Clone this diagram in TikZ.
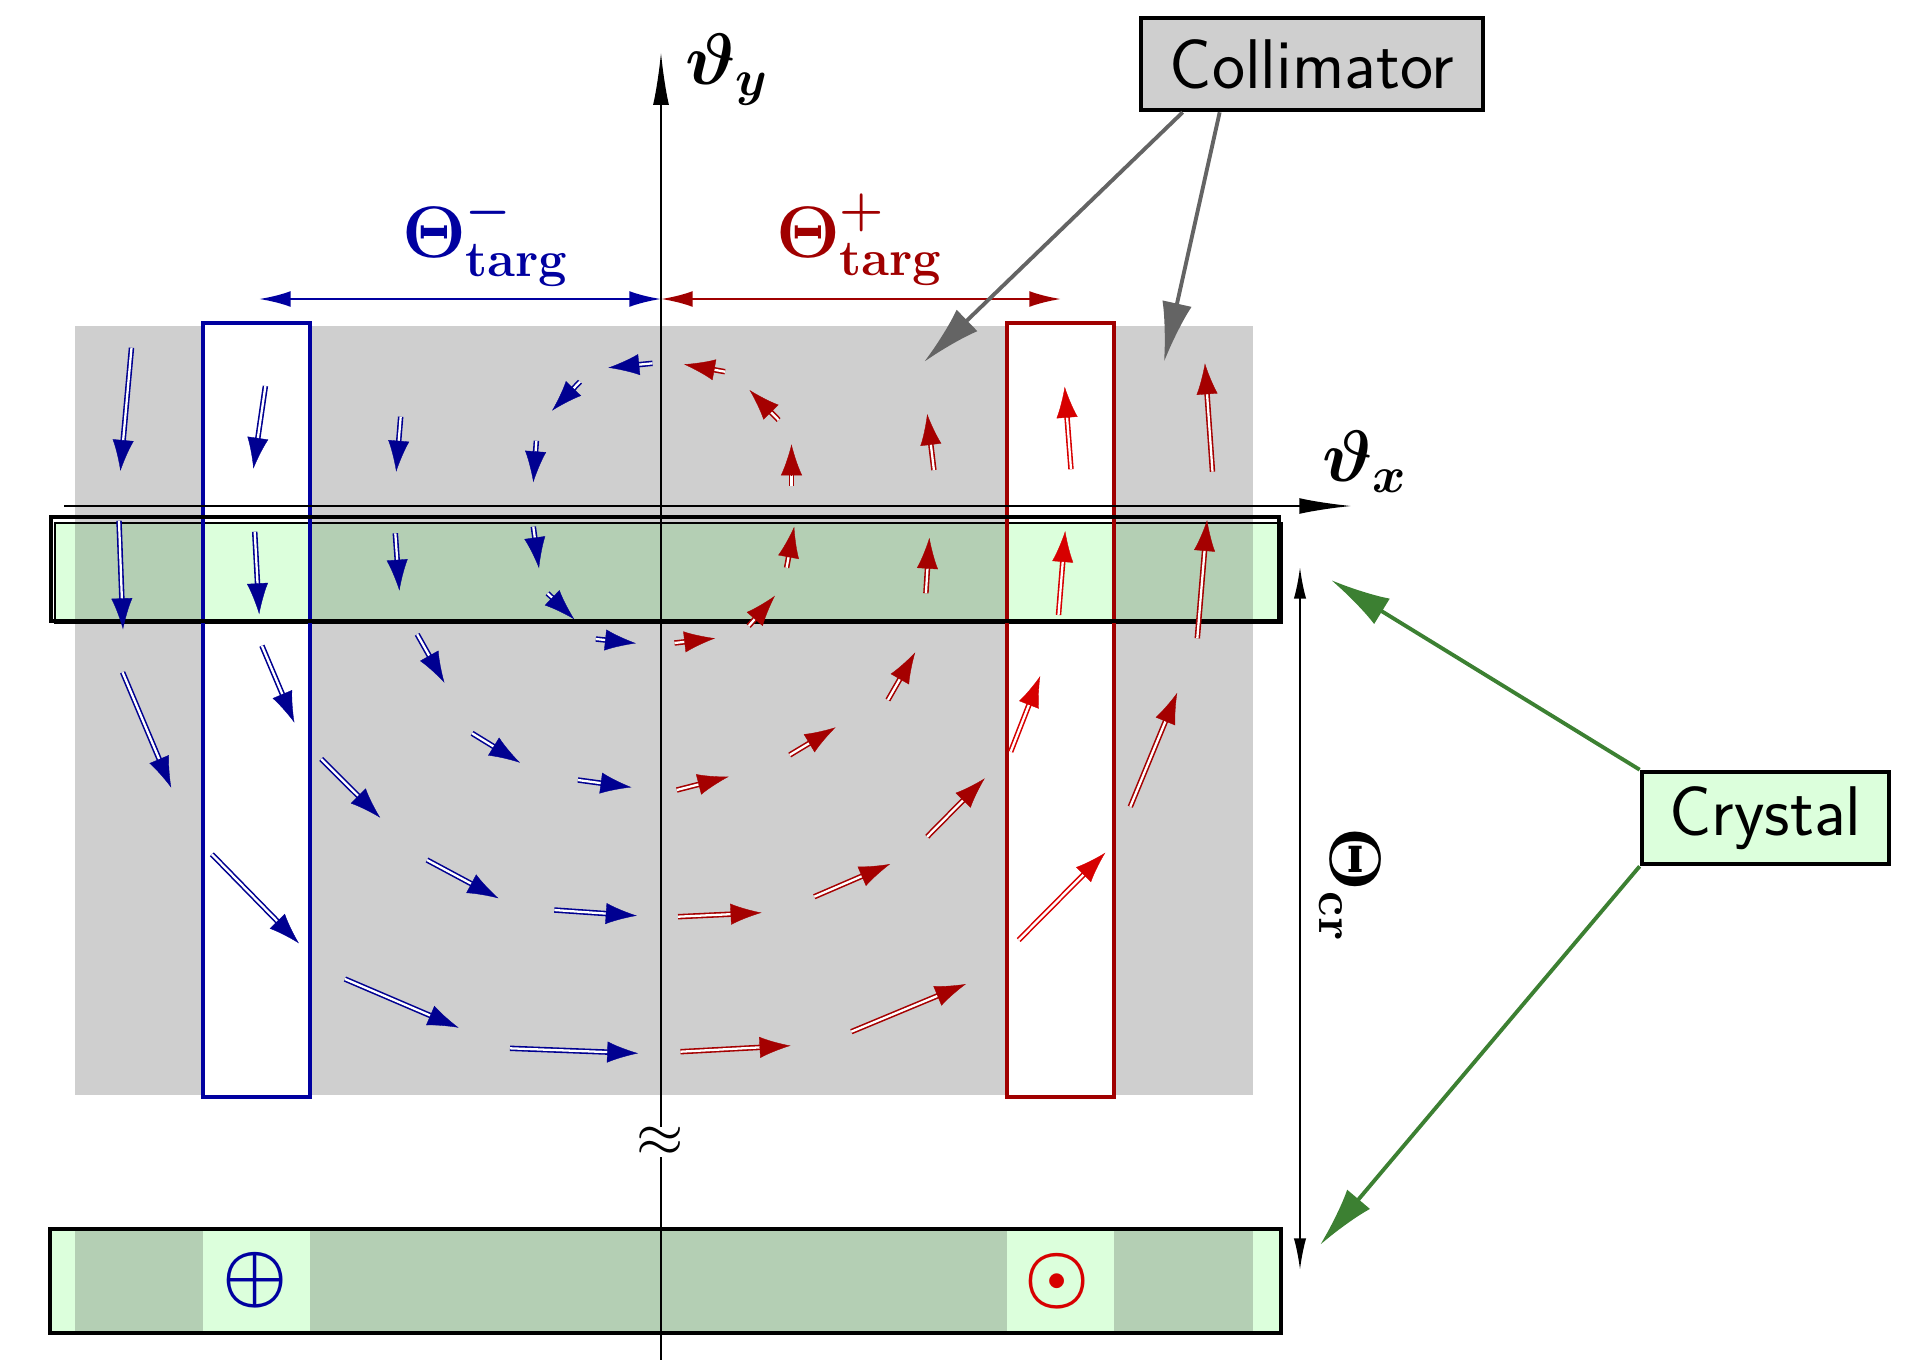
\documentclass[tikz,border=0pt]{standalone}
\usepackage{amsmath,bm}
\usetikzlibrary{arrows.meta,calc}
\definecolor{vblue}{RGB}{0,0,145}
\definecolor{vred}{RGB}{165,0,0}
\definecolor{vredb}{RGB}{215,0,0}
\definecolor{boxblue}{RGB}{0,0,160}
\definecolor{boxred}{RGB}{160,0,0}
\definecolor{colgray}{RGB}{207,207,207}
\definecolor{lgreen}{RGB}{220,255,220}
\definecolor{dgreen}{RGB}{180,207,180}
\definecolor{pgreen}{RGB}{60,128,50}
\definecolor{agray}{RGB}{100,100,100}
\newcommand\vfa[3]{%
  \draw[#1, line width=0.45pt, double=white, double distance=0.65pt, shorten >=7.5pt] (#2) -- (#3);
  \draw[#1, line width=0.1pt, -{Latex[length=8.8pt,width=6pt]}] ($(#3)!8.8pt!(#2)$) -- (#3);
}
\tikzset{
  lab/.style={font=\fontsize{20}{24}\selectfont, inner sep=0pt},
  tagbox/.style={draw, line width=1.3pt, font=\sffamily\fontsize{20}{24}\selectfont, minimum height=0.92cm, inner sep=0pt},
  axis/.style={line width=0.7pt, -{Latex[length=15pt,width=4.5pt]}},
  dimarr/.style={line width=0.75pt, {Latex[length=9pt,width=4.5pt]}-{Latex[length=9pt,width=4.5pt]}},
  callout/.style={line width=1.1pt, -{Latex[length=17pt,width=8.5pt]}},
  slot/.style={line width=1.3pt},
  band/.style={line width=1.3pt}
}
\begin{document}
\begin{tikzpicture}[x=0.01cm,y=-0.01cm]
\useasboundingbox (0,0) rectangle (1917,1360);
% collimator region
\fill[colgray] (75,326) rectangle (1253,1095);
\fill[white] (203,323) rectangle (310,1097);
\fill[white] (1007,323) rectangle (1114,1097);
% upper crystal band
\fill[lgreen] (55,523) rectangle (1281,621);
\fill[dgreen] (75,523) rectangle (203,621);
\fill[dgreen] (310,523) rectangle (1007,621);
\fill[dgreen] (1114,523) rectangle (1253,621);
\draw[line width=0.4pt] (55,523) rectangle (1282,623);
% lower crystal band
\fill[lgreen] (52,1231) rectangle (1279,1331);
\fill[dgreen] (75,1231) rectangle (203,1331);
\fill[dgreen] (310,1231) rectangle (1007,1331);
\fill[dgreen] (1114,1231) rectangle (1253,1331);
% slots
\draw[slot, boxblue] (203,323) rectangle (310,1097);
\draw[slot, boxred] (1007,323) rectangle (1114,1097);
% band borders
\draw[band] (51,517) rectangle (1279,621);
\draw[band] (50,1229) rectangle (1281,1333);
% symbols in lower band
\node[text=boxblue, inner sep=0pt, font=\fontsize{21}{24}\selectfont] (plus) at (255,1280) {$\bm{\oplus}$};
\node[text=vredb, inner sep=0pt, font=\fontsize{21}{24}\selectfont] (dot) at (1057,1281) {$\bm{\odot}$};
% axes
\draw[axis] (64,506) -- (1352,506);
\draw[axis] (661,1360) -- (661,52);
\node[fill=white, inner sep=0pt, font=\fontsize{18}{20}\selectfont] (brk) at (660.5,1142) {$\approx$};
\node[lab] (ty) at (727,70) {$\bm{\vartheta_y}$};
\node[lab] (tx) at (1365,462) {$\bm{\vartheta_x}$};
% target angle arrows
\draw[dimarr, boxblue] (259,299) -- (661,299);
\draw[dimarr, boxred] (661,299) -- (1061,299);
\node[lab, text=boxblue] (tm) at (486,240) {$\bm{\Theta}^{\bm{-}}_{\mathbf{targ}}$};
\node[lab, text=boxred] (tp) at (860,240) {$\bm{\Theta}^{\bm{+}}_{\mathbf{targ}}$};
% crystal angle
\draw[line width=0.6pt, {Latex[length=9pt,width=3.5pt]}-{Latex[length=9pt,width=3.5pt]}] (1300,567) -- (1300,1270);
\node[lab, rotate=-90] (tcr) at (1350,885) {$\bm{\Theta}_{\mathbf{cr}}$};
% blue field
\vfa{vblue}{131.5,347.7}{120.4,471}
\vfa{vblue}{265.4,386}{253.4,468.7}
\vfa{vblue}{400.7,416.7}{396.2,471.7}
\vfa{vblue}{536.4,440.7}{533.3,482.3}
\vfa{vblue}{580,381.7}{552,410.7}
\vfa{vblue}{652.5,363.3}{608.3,367.7}
\vfa{vblue}{119,520.7}{123,629.3}
\vfa{vblue}{254.7,531.7}{259.2,614.3}
\vfa{vblue}{395.3,533.3}{399.4,590.7}
\vfa{vblue}{533.3,526.7}{539,568.3}
\vfa{vblue}{547.6,593.3}{574.3,619.3}
\vfa{vblue}{595.8,639}{636,643.3}
\vfa{vblue}{417.2,634.3}{444.4,682.7}
\vfa{vblue}{261.9,645.7}{294.4,722.7}
\vfa{vblue}{122.6,672.3}{171.2,787.7}
\vfa{vblue}{472.1,733.3}{520,762.7}
\vfa{vblue}{577.9,780}{631.5,787.3}
\vfa{vblue}{321.2,759}{380.2,817.7}
\vfa{vblue}{211.9,854.3}{298.9,943.3}
\vfa{vblue}{427,860}{498.5,898.3}
\vfa{vblue}{554.3,910}{636.8,915.7}
\vfa{vblue}{344.9,979}{458.7,1027.7}
\vfa{vblue}{510,1048.3}{638.2,1053.3}
% red field
\vfa{vred}{725,371.7}{683.9,364.3}
\vfa{vred}{778.6,420}{749.5,390}
\vfa{vred}{791.5,485.7}{791.5,444.3}
\vfa{vred}{933.9,470}{927.2,414}
\vfa{vredb}{1071,469.3}{1064.7,386.7}
\vfa{vred}{1212.5,471.7}{1204.9,363.3}
\vfa{vred}{786.6,567.7}{794.2,526.7}
\vfa{vred}{925.9,593.3}{929.4,537.7}
\vfa{vredb}{1058.5,615}{1065.2,531}
\vfa{vred}{1197.3,638.3}{1207.1,520}
\vfa{vred}{748.7,626}{775,595.7}
\vfa{vred}{674.5,643}{715.2,638.3}
\vfa{vred}{887.9,700}{915.2,652.3}
\vfa{vredb}{1010.7,751.7}{1040.2,676}
\vfa{vred}{1130.3,806.7}{1177.2,692.7}
\vfa{vred}{676.8,790}{728.6,776.7}
\vfa{vred}{789.7,755}{835.7,727.3}
\vfa{vred}{927.2,836.7}{984.8,778.3}
\vfa{vred}{678.1,916.7}{761.6,912.7}
\vfa{vred}{814.3,896.7}{890.2,864}
\vfa{vredb}{1018.7,940}{1105.3,852.7}
\vfa{vred}{680.4,1051.7}{790.6,1045.7}
\vfa{vred}{851.3,1031.7}{966,984}
% callouts
\node[tagbox, fill=colgray, minimum width=3.42cm] (coll) at (1312,64) {Collimator};
\node[tagbox, fill=lgreen, minimum width=2.47cm] (crys) at (1765.5,818) {Crystal};
\coordinate (c1) at (924,362);
\coordinate (c2) at (1164,362);
\coordinate (g1) at (1331,580);
\coordinate (g2) at (1320,1245);
\draw[callout, agray] ([xshift=0.44cm]coll.south west) -- (c1);
\draw[callout, agray] ([xshift=0.81cm]coll.south west) -- (c2);
\draw[callout, pgreen] (crys.north west) -- (g1);
\draw[callout, pgreen] (crys.south west) -- (g2);
\end{tikzpicture}
\end{document}
